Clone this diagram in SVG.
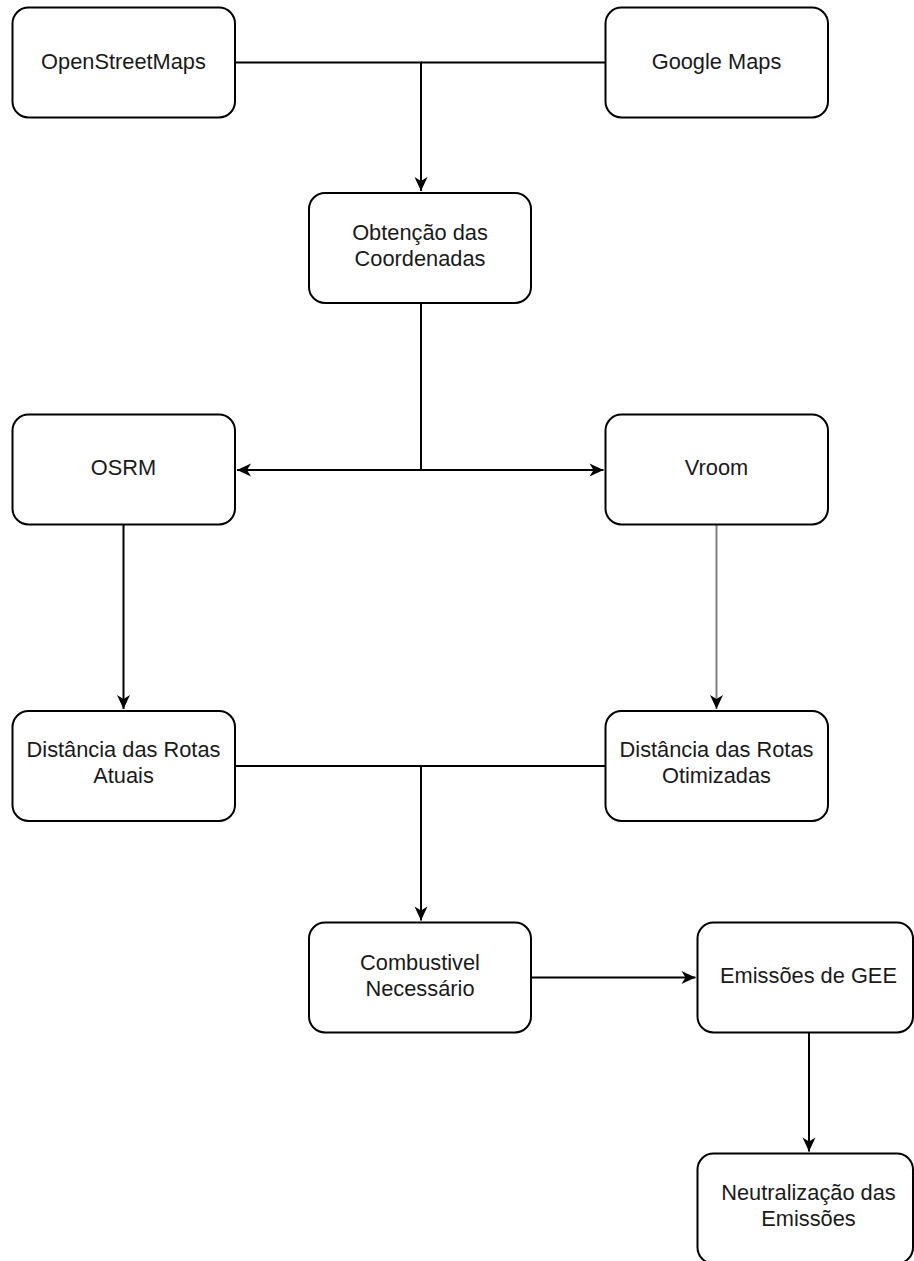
<svg xmlns="http://www.w3.org/2000/svg" width="914" height="1261" viewBox="0 0 914 1261">
<style>
.box{fill:#fff;stroke:#000;stroke-width:2}
.lbl{font-family:"Liberation Sans",Arial,sans-serif;font-size:21.8px;fill:#1a1a1a;text-anchor:middle}
.edge{fill:none;stroke:#000;stroke-width:2}
.gray{stroke:#808080}
</style>
<defs>
<marker id="arr" markerUnits="userSpaceOnUse" viewBox="-15 -8 16 16" refX="0" refY="0" markerWidth="16" markerHeight="16" orient="auto">
<path d="M0,0 L-14,-6.5 L-10,0 L-14,6.5 Z" fill="#000"/>
</marker>
</defs>
<rect width="914" height="1261" fill="#fff"/>
<g id="connectors">
<path class="edge" d="M235,62.5 H421 V191" marker-end="url(#arr)"/>
<path class="edge" d="M605.5,62.5 H421"/>
<path class="edge" d="M421,303 V470 H237" marker-end="url(#arr)"/>
<path class="edge" d="M421,470 H603.5" marker-end="url(#arr)"/>
<path class="edge" d="M123.5,524.5 V709" marker-end="url(#arr)"/>
<path class="edge gray" d="M716.5,524.5 V709" marker-end="url(#arr)"/>
<path class="edge" d="M235,766 H421 V920.5" marker-end="url(#arr)"/>
<path class="edge" d="M605.5,766 H421"/>
<path class="edge" d="M531,977.5 H695.5" marker-end="url(#arr)"/>
<path class="edge" d="M809,1032.5 V1151.5" marker-end="url(#arr)"/>
</g>
<g id="n-osm"><rect class="box" x="12.5" y="7.5" width="222.5" height="110" rx="16"/><text class="lbl" x="123.5" y="68.5">OpenStreetMaps</text></g>
<g id="n-google"><rect class="box" x="605.5" y="7.5" width="222.5" height="110" rx="16"/><text class="lbl" x="716.5" y="68.5">Google Maps</text></g>
<g id="n-coord"><rect class="box" x="309" y="193" width="222" height="110" rx="16"/><text class="lbl" x="420" y="239.5">Obtenção das</text><text class="lbl" x="420" y="265.5">Coordenadas</text></g>
<g id="n-osrm"><rect class="box" x="12.5" y="414.5" width="222.5" height="110" rx="16"/><text class="lbl" x="123.5" y="475">OSRM</text></g>
<g id="n-vroom"><rect class="box" x="605.5" y="414.5" width="222.5" height="110" rx="16"/><text class="lbl" x="716.5" y="475">Vroom</text></g>
<g id="n-atuais"><rect class="box" x="12.5" y="711" width="222.5" height="110" rx="16"/><text class="lbl" x="123.5" y="757">Distância das Rotas</text><text class="lbl" x="123.5" y="783">Atuais</text></g>
<g id="n-otim"><rect class="box" x="605.5" y="711" width="222.5" height="110" rx="16"/><text class="lbl" x="716.5" y="757">Distância das Rotas</text><text class="lbl" x="716.5" y="783">Otimizadas</text></g>
<g id="n-comb"><rect class="box" x="309" y="922.5" width="222" height="110" rx="16"/><text class="lbl" x="420" y="969.5">Combustivel</text><text class="lbl" x="420" y="995.5">Necessário</text></g>
<g id="n-gee"><rect class="box" x="697.5" y="922.5" width="215.5" height="110" rx="16"/><text class="lbl" x="808.5" y="983">Emissões de GEE</text></g>
<g id="n-neutral"><rect class="box" x="697.5" y="1153.5" width="215.5" height="110" rx="16"/><text class="lbl" x="808.5" y="1200">Neutralização das</text><text class="lbl" x="808.5" y="1226">Emissões</text></g>
</svg>
